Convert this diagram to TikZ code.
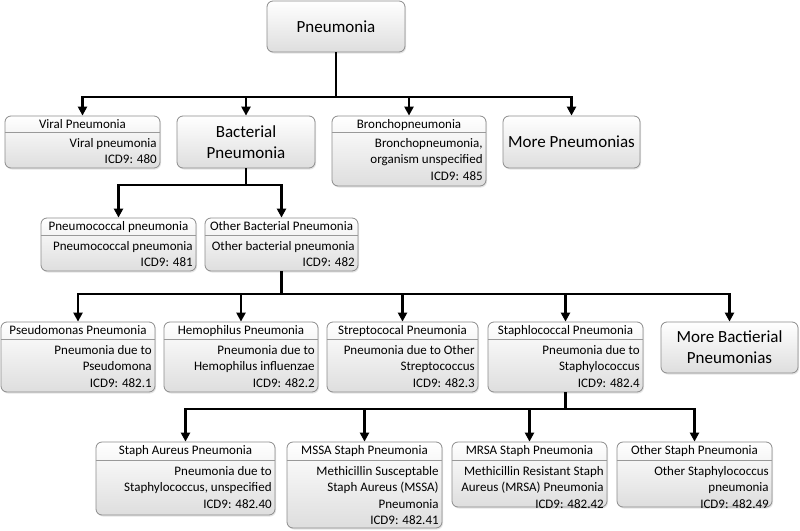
\documentclass[tikz,border=0pt]{standalone}
\usepackage{fontspec}
\setmainfont{Carlito}
\usetikzlibrary{arrows.meta,fit,shadows,calc}

\tikzset{
  boxshape/.style={draw=black!45, line width=0.8pt, rounded corners=6pt, top color=white, bottom color=black!13,
    drop shadow={opacity=0.2, shadow xshift=1pt, shadow yshift=-1.5pt}, inner sep=0pt},
  sepline/.style={draw=black!40, line width=0.7pt},
  htxt/.style={font=\fontsize{13}{16}\selectfont, inner sep=0pt},
  btxt/.style={font=\fontsize{13}{16.6}\selectfont, align=right, inner sep=0pt},
  bigtxt/.style={font=\fontsize{17}{21}\selectfont, align=center, inner sep=0pt},
  conn/.style={line width=2.4pt, -{Triangle[length=9pt,width=9pt]}},
}

\newcommand\dbox[8]{%
  \node[boxshape, fit={(#2,#3) (#4,#5)}] (#1) {};
  \coordinate (#1l) at (#1.west |- 0,#6);
  \coordinate (#1r) at (#1.east |- 0,#6);
  \draw[sepline] (#1l) -- (#1r);
  \node[htxt, anchor=base] (#1h) at ([yshift=-12.5pt]#1.north) {#7};
  \node[btxt, anchor=north east] (#1b) at ([xshift=-3.5pt,yshift=-3.8pt]#1r) {\rule{0pt}{11pt}#8};
}
\newcommand\bbox[6]{%
  \node[boxshape, fit={(#2,#3) (#4,#5)}] (#1) {};
  \node[bigtxt] (#1t) at (#1.center) {#6};
}

\begin{document}
\begin{tikzpicture}[x=1pt,y=-1pt]
\fill[white] (0,0) rectangle (800,530);
\useasboundingbox (0,0) rectangle (800,530);

\bbox{root}{267}{1}{405}{52}{Pneumonia}
\dbox{viral}{5}{116}{160}{168}{132}{Viral Pneumonia}{Viral pneumonia\\ICD9: 480}
\bbox{bact}{177}{116}{315}{168}{Bacterial\\Pneumonia}
\dbox{broncho}{332}{116}{486}{186}{132}{Bronchopneumonia}{Bronchopneumonia,\\organism unspecified\\ICD9: 485}
\bbox{morep}{503}{116}{640}{168}{More Pneumonias}

\dbox{pneumo}{41}{218}{196}{271}{235}{Pneumococcal pneumonia}{Pneumococcal pneumonia\\ICD9: 481}
\dbox{otherb}{205}{218}{358}{271}{235}{Other Bacterial Pneumonia}{Other bacterial pneumonia\\ICD9: 482}

\dbox{pseudo}{1}{322}{155}{392}{339}{Pseudomonas Pneumonia}{Pneumonia due to\\Pseudomona\\ICD9: 482.1}
\dbox{hemo}{164}{322}{318}{392}{339}{Hemophilus Pneumonia}{Pneumonia due to\\Hemophilus influenzae\\ICD9: 482.2}
\dbox{strep}{327}{322}{478}{392}{339}{Streptococal Pneumonia}{Pneumonia due to Other\\Streptococcus\\ICD9: 482.3}
\dbox{staph}{488}{322}{643}{392}{339}{Staphlococcal Pneumonia}{Pneumonia due to\\Staphylococcus\\ICD9: 482.4}
\bbox{moreb}{661}{322}{798}{373}{More Bactierial\\Pneumonias}

\dbox{aureus}{96}{442}{275}{515}{460}{Staph Aureus Pneumonia}{Pneumonia due to\\Staphylococcus, unspecified\\ICD9: 482.40}
\dbox{mssa}{287}{442}{442}{528}{460}{MSSA Staph Pneumonia}{Methicillin Susceptable\\Staph Aureus (MSSA)\\Pneumonia\\ICD9: 482.41}
\dbox{mrsa}{452}{442}{607}{507}{460}{MRSA Staph Pneumonia}{Methicillin Resistant Staph\\Aureus (MRSA) Pneumonia\\ICD9: 482.42}
\dbox{others}{617}{442}{772}{507}{460}{Other Staph Pneumonia}{Other Staphylococcus\\pneumonia\\ICD9: 482.49}

\coordinate (bus1) at (root.south |- 0,97);
\coordinate (bus2) at (bact.south |- 0,185);
\coordinate (bus3) at (otherb.south |- 0,294);
\coordinate (bus4) at (staph.south |- 0,409);
\foreach \c in {viral,bact,broncho,morep} \draw[conn] (root.south) -- (bus1) -| (\c.north);
\foreach \c in {pneumo,otherb} \draw[conn] (bact.south) -- (bus2) -| (\c.north);
\foreach \c in {pseudo,hemo,strep,staph,moreb} \draw[conn] (otherb.south) -- (bus3) -| (\c.north);
\foreach \c in {aureus,mssa,mrsa,others} \draw[conn] (staph.south) -- (bus4) -| (\c.north);
\end{tikzpicture}
\end{document}
